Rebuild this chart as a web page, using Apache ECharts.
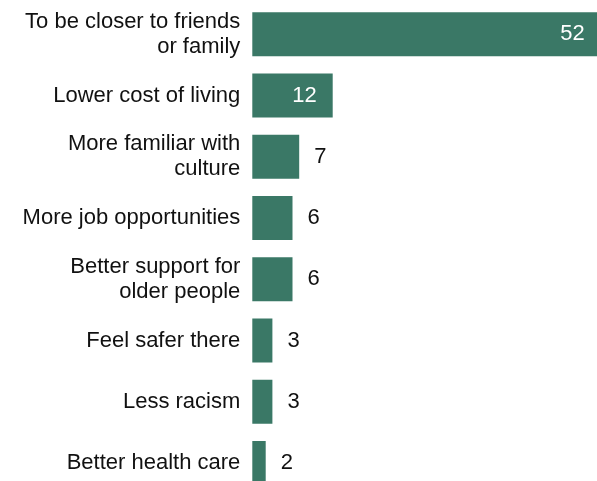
<!DOCTYPE html>
<html>
<head>
<meta charset="utf-8">
<script src="https://cdn.jsdelivr.net/npm/echarts@6/dist/echarts.min.js"></script>
<style>html,body{margin:0;padding:0;background:#fff;}#c{width:597px;height:481px;}</style>
</head>
<body>
<div id="c"></div>
<script>
const categories = [
  "To be closer to friends\nor family",
  "Lower cost of living",
  "More familiar with\nculture",
  "More job opportunities",
  "Better support for\nolder people",
  "Feel safer there",
  "Less racism",
  "Better health care"
];
const values = [52, 12, 7, 6, 6, 3, 3, 2];

const FONT = '"Liberation Sans", Arial, sans-serif';
const chart = echarts.init(document.getElementById('c'), null, {renderer: 'canvas'});
chart.setOption({
  animation: false,
  backgroundColor: '#fff',
  grid: {left: 252.3, top: 3.6, height: 490, width: 348.4, outerBoundsMode: 'none', containLabel: false},
  xAxis: {type: 'value', min: 0, max: 52, show: false},
  yAxis: {
    type: 'category', data: categories, inverse: true,
    axisLine: {show: false}, axisTick: {show: false},
    axisLabel: {margin: 12, color: '#111', fontSize: 22, fontFamily: FONT, lineHeight: 25, align: 'right'}
  },
  series: [{
    type: 'bar',
    data: values.map(v => ({
      value: v,
      label: v >= 10
        ? {position: 'insideRight', distance: 16, color: '#fff'}
        : {position: 'right', distance: 15, color: '#111'}
    })),
    barWidth: 44,
    itemStyle: {color: '#3a7866'},
    label: {show: true, fontSize: 22, fontFamily: FONT}
  }]
});
</script>
</body>
</html>
